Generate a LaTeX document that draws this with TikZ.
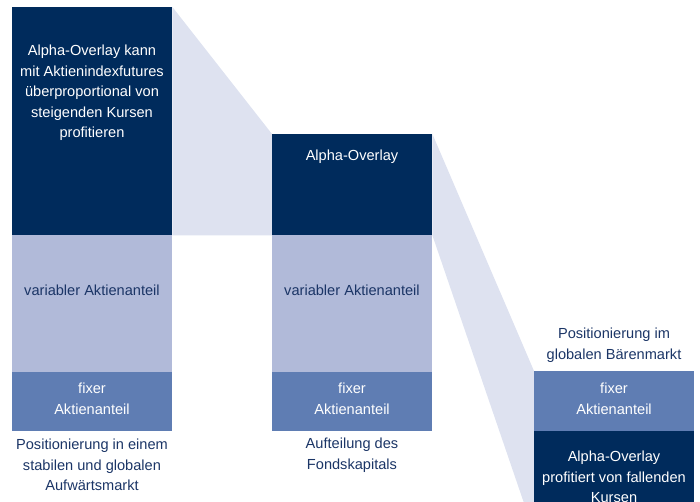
\documentclass[tikz,border=0pt]{standalone}
\usepackage{fontspec}
\setmainfont{Liberation Sans}
\usepackage{xcolor}
\definecolor{FundNavy}{HTML}{002B5C}
\definecolor{FundVar}{HTML}{B1BAD9}
\definecolor{FundFix}{HTML}{5F7DB3}
\definecolor{FundBand}{HTML}{DEE2F0}
\definecolor{FundText}{HTML}{1B3566}
\usepackage{tikz}
\usetikzlibrary{positioning, backgrounds}

\begin{document}
\begin{tikzpicture}[
        x=1pt, y=-1pt,
        font=\fontsize{14.6}{20.5}\selectfont,
        % Styles
        block/.style={rectangle, inner sep=0pt, minimum width=160pt, anchor=north west},
        alphabox/.style={block, fill=FundNavy},
        varbox/.style={block, fill=FundVar},
        fixbox/.style={block, fill=FundFix},
        band/.style={fill=FundBand},
        whitetxt/.style={text=white, align=center, inner sep=0pt},
        darktxt/.style={text=FundText, align=center, inner sep=0pt}
    ]
    \clip (0,0) rectangle (700,502);

    % 1. LEFT COLUMN (Aufwaertsmarkt)
    \node[alphabox, minimum height=228pt] (lAlpha) at (12,7) {};
    \node[varbox, minimum height=137pt] (lVar) at (12,235) {};
    \node[fixbox, minimum height=59pt] (lFix) at (12,372) {};

    % 2. MIDDLE COLUMN (Fondskapital)
    \node[alphabox, minimum height=101pt] (mAlpha) at (272,134) {};
    \node[varbox, minimum height=137pt] (mVar) at (272,235) {};
    \node[fixbox, minimum height=59pt] (mFix) at (272,372) {};

    % 3. RIGHT COLUMN (Baerenmarkt)
    \node[fixbox, minimum height=60pt] (rFix) at (534,371) {};
    \node[alphabox, minimum height=101pt] (rAlpha) at (534,431) {};

    % 4. BANDS (behind the blocks)
    \begin{scope}[on background layer]
        \fill[band] (lAlpha.north east) -- (mAlpha.north west) -- (mAlpha.south west) -- (lAlpha.south east) -- cycle;
        \fill[band] (mAlpha.north east) -- (rFix.north west) -- (rAlpha.south west) -- (mAlpha.south east) -- cycle;
    \end{scope}

    % 5. TEXTS
    \node[whitetxt] (lAlphaTxt) at (92,93) {Alpha-Overlay kann\\mit Aktienindexfutures\\überproportional von\\steigenden Kursen\\profitieren};
    \node[darktxt] (lVarTxt) at (92,290) {variabler Aktienanteil};
    \node[whitetxt] (lFixTxt) at (92,399) {fixer\\Aktienanteil};
    \node[darktxt] (lCap) at (92,465) {Positionierung in einem\\stabilen und globalen\\Aufwärtsmarkt};

    \node[whitetxt] (mAlphaTxt) at (352,157) {Alpha-Overlay};
    \node[darktxt] (mVarTxt) at (352,290) {variabler Aktienanteil};
    \node[whitetxt] (mFixTxt) at (352,399) {fixer\\Aktienanteil};
    \node[darktxt] (mCap) at (352,455) {Aufteilung des\\Fondskapitals};

    \node[darktxt] (rCap) at (614,345) {Positionierung im\\globalen Bärenmarkt};
    \node[whitetxt] (rFixTxt) at (614,399) {fixer\\Aktienanteil};
    \node[whitetxt] (rAlphaTxt) at (614,477) {Alpha-Overlay\\profitiert von fallenden\\Kursen};
\end{tikzpicture}
\end{document}
